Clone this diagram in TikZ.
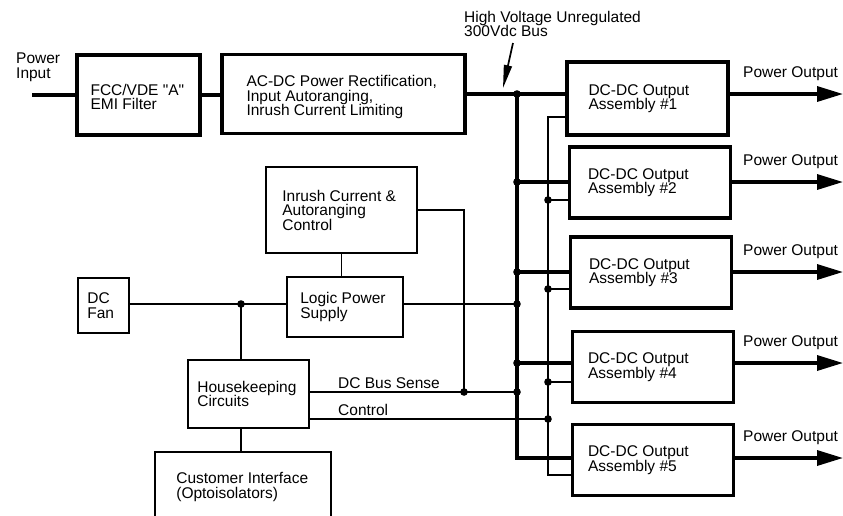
\documentclass[tikz,border=0pt]{standalone}
\usepackage{fontspec}
\setmainfont{Liberation Sans}
\usetikzlibrary{positioning,arrows.meta}
\tikzstyle{blk} = [draw, line width=1.7pt, inner sep=0pt]
\tikzstyle{bigblk} = [blk, line width=3.3pt]
\tikzstyle{dcblk} = [bigblk, minimum width=161pt, minimum height=71pt]
\tikzstyle{txt} = [inner sep=0pt, align=left]
\tikzstyle{outlbl} = [txt, anchor=base west, yshift=16.5pt]
\tikzstyle{power} = [line width=3.3pt]
\tikzstyle{sig} = [line width=1.7pt]
\tikzstyle{outarrow} = [power, -{Triangle[length=26pt, width=15pt]}]

\begin{document}
\begin{tikzpicture}[x=1pt, y=-1pt, font=\fontsize{15.5}{14.5}\selectfont]
    \useasboundingbox (0,0) rectangle (843,515);

    % Input chain
    \coordinate (pin) at (32,95);
    \node[txt, anchor=north west] (pin-t) at (16,52.7) {Power\\Input};
    \node[bigblk, minimum width=123pt, minimum height=80pt] (emi) at (138.5,95) {};
    \node[txt, right=15pt of emi.west, yshift=-2pt] (emi-t) {FCC/VDE \textquotedbl A\textquotedbl\\EMI Filter};
    \node[bigblk, minimum width=243pt, minimum height=79pt] (acdc) at (343.5,94) {};
    \node[txt, right=26pt of acdc.west, yshift=-3pt] (acdc-t) {AC-DC Power Rectification,\\Input Autoranging,\\Inrush Current Limiting};

    % Output assemblies
    \node[dcblk, minimum height=73pt] (dc1) at (647.5,98.5) {};
    \node[dcblk] (dc2) at (650,182.5) {};
    \node[dcblk] (dc3) at (651,272.5) {};
    \node[dcblk] (dc4) at (653,367) {};
    \node[dcblk] (dc5) at (653,460) {};
    \node[txt, right=23pt of dc1.west] (dc1-t) {DC-DC Output\\Assembly \#1};
    \node[txt, right=20pt of dc2.west] (dc2-t) {DC-DC Output\\Assembly \#2};
    \node[txt, right=20pt of dc3.west] (dc3-t) {DC-DC Output\\Assembly \#3};
    \node[txt, right=17pt of dc4.west] (dc4-t) {DC-DC Output\\Assembly \#4};
    \node[txt, right=17pt of dc5.west] (dc5-t) {DC-DC Output\\Assembly \#5};

    % Housekeeping side
    \node[blk, minimum width=151pt, minimum height=86pt] (inrush) at (341.5,210) {};
    \node[txt, right=17pt of inrush.west] (inrush-t) {Inrush Current \&\\Autoranging\\Control};
    \node[blk, minimum width=116pt, minimum height=60pt] (lps) at (345,307) {};
    \node[txt, right=14pt of lps.west] (lps-t) {Logic Power\\Supply};
    \node[blk, minimum width=51pt, minimum height=55pt] (fan) at (103.5,305.5) {};
    \node[txt, right=10pt of fan.west] (fan-t) {DC\\Fan};
    \node[blk, minimum width=121pt, minimum height=68pt] (house) at (248.5,394) {};
    \node[txt, right=10pt of house.west] (house-t) {Housekeeping\\Circuits};
    \begin{scope}
        \clip (0,0) rectangle (843,515);
        \node[blk, minimum width=176pt, minimum height=70pt] (cust) at (243,487) {};
    \end{scope}
    \node[txt, right=22pt of cust.west] (cust-t) {Customer Interface\\(Optoisolators)};

    % Bus points
    \coordinate (b1) at (517,94);
    \coordinate (b2) at (517,182);
    \coordinate (b3) at (517,272);
    \coordinate (bl) at (517,304);
    \coordinate (b4) at (517,363);
    \coordinate (bs) at (517,392);
    \coordinate (b5) at (517,458);
    \coordinate (c1) at (548,117);
    \coordinate (c2) at (548,200);
    \coordinate (c3) at (548,289);
    \coordinate (c4) at (548,382);
    \coordinate (cc) at (548,419);
    \coordinate (c5) at (548,475);
    \coordinate (j1) at (241,304);
    \coordinate (js) at (464,392);
    \coordinate (outx) at (843,0);
    \coordinate (lblx) at (743,0);

    % Power path
    \draw[power] (pin) -- (emi.west);
    \draw[power] (emi.east) -- (emi.east -| acdc.west);
    \draw[power] (acdc.east) -- (b1 -| dc1.west);
    \draw[power] (b1) -- (b5) -- (b5 -| dc5.west);
    \draw[power] (b2) -- (b2 -| dc2.west);
    \draw[power] (b3) -- (b3 -| dc3.west);
    \draw[power] (b4) -- (b4 -| dc4.west);

    % Control bus
    \draw[sig] (c1 -| dc1.west) -- (c1) -- (c5) -- (c5 -| dc5.west);
    \draw[sig] (c2) -- (c2 -| dc2.west);
    \draw[sig] (c3) -- (c3 -| dc3.west);
    \draw[sig] (c4) -- (c4 -| dc4.west);

    % Outputs
    \draw[outarrow] (b1 -| dc1.east) -- (b1 -| outx);
    \draw[outarrow] (b2 -| dc2.east) -- (b2 -| outx);
    \draw[outarrow] (b3 -| dc3.east) -- (b3 -| outx);
    \draw[outarrow] (b4 -| dc4.east) -- (b4 -| outx);
    \draw[outarrow] (b5 -| dc5.east) -- (b5 -| outx);
    \node[outlbl] (po1) at (b1 -| lblx) {Power Output};
    \node[outlbl] (po2) at (b2 -| lblx) {Power Output};
    \node[outlbl] (po3) at (b3 -| lblx) {Power Output};
    \node[outlbl] (po4) at (b4 -| lblx) {Power Output};
    \node[outlbl] (po5) at (b5 -| lblx) {Power Output};

    % Bus label
    \node[txt, anchor=north west] (hv) at (464,10.7) {High Voltage Unregulated\\300Vdc Bus};
    \coordinate (hvtail) at (513,43);
    \coordinate (hvtip) at (503,88);
    \draw[sig, -{Triangle[length=23pt, width=8pt]}] (hvtail) -- (hvtip);

    % Housekeeping wiring
    \draw[sig] (inrush.south) -- (inrush.south |- lps.north);
    \draw[sig] (inrush.east) -| (js);
    \draw[sig] (fan.east |- j1) -- (j1 -| lps.west);
    \draw[sig] (j1 -| lps.east) -- (bl);
    \draw[sig] (j1) -- (j1 |- house.north);
    \draw[sig] (house.south -| j1) -- (j1 |- cust.north);
    \draw[sig] (house.east |- bs) -- (bs);
    \draw[sig] (house.east |- cc) -- (cc);
    \node[txt, anchor=base west] (sense) at (338,388) {DC Bus Sense};
    \node[txt, anchor=base west] (ctl) at (338,415) {Control};

    % Junctions
    \foreach \p in {b1,b2,b3,bl,b4,bs,c2,c3,c4,cc,js,j1}
        \fill (\p) circle (3.8pt);
\end{tikzpicture}
\end{document}
